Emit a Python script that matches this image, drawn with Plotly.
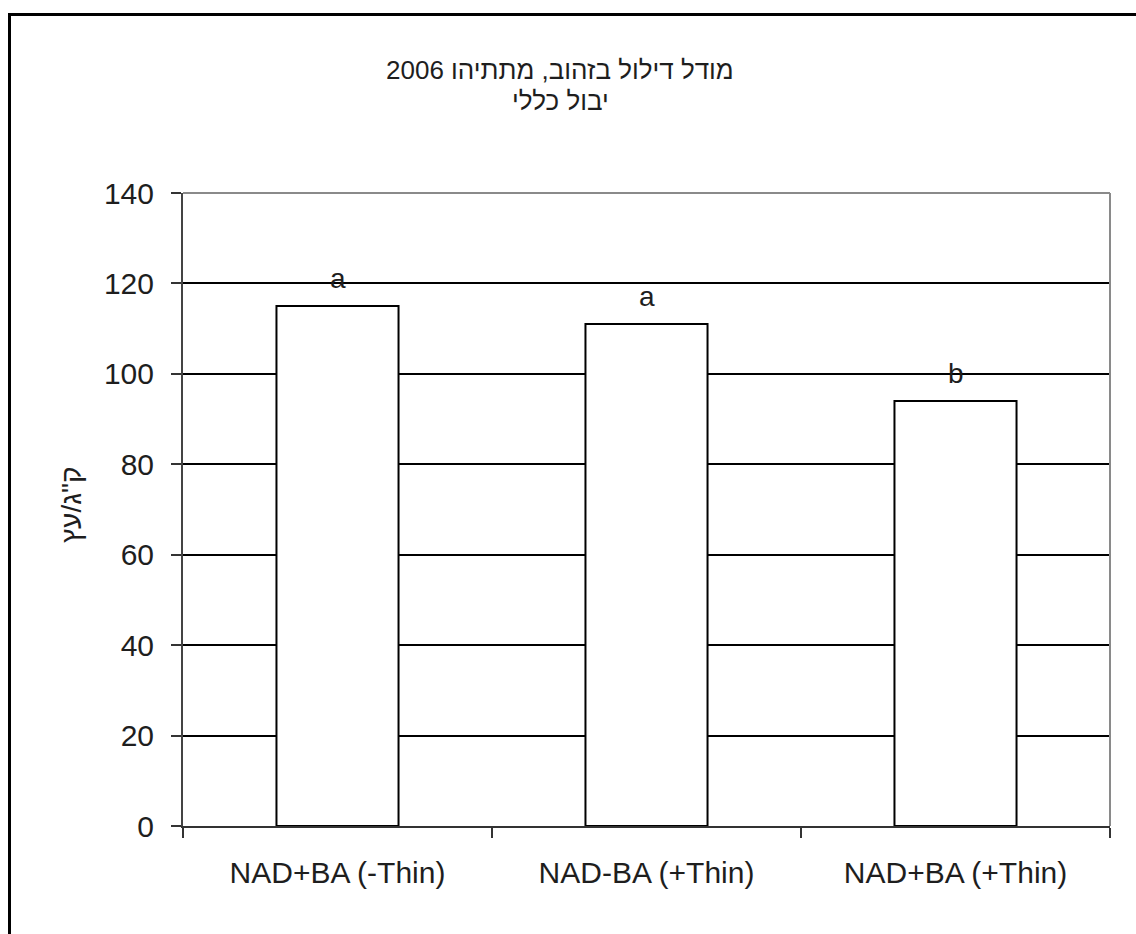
import plotly.graph_objects as go

# Data
categories = ["NAD+BA (-Thin)", "NAD-BA (+Thin)", "NAD+BA (+Thin)"]
yield_kg = [115, 111, 94]
group_letters = ["a", "a", "b"]
y_ticks = [0, 20, 40, 60, 80, 100, 120, 140]

title_line1 = "מודל דילול בזהוב, מתתיהו 2006"
title_line2 = "יבול כללי"
y_title = 'ק"ג/עץ'

FONT = "Liberation Sans, Arial, DejaVu Sans, sans-serif"
TEXT_COLOR = "#1e1e1e"

# Plot-area placement in pixels
W, H = 1136, 934
L, R, T, B = 183, 1110, 193, 826
pw, ph = R - L, B - T


def px_x(x):
    return (x - L) / pw


def px_y(y):
    return (B - y) / ph


fig = go.Figure()

fig.add_trace(go.Bar(
    x=categories,
    y=yield_kg,
    width=0.395,
    marker=dict(color="white", line=dict(color="black", width=2)),
    hoverinfo="x+y",
))

# significance letters above each bar
for cat, val, letter in zip(categories, yield_kg, group_letters):
    fig.add_annotation(
        x=cat, y=val, text=letter, showarrow=False,
        yanchor="bottom", yshift=10,
        font=dict(family=FONT, size=28, color=TEXT_COLOR),
    )

# two-line title
fig.add_annotation(
    xref="paper", yref="paper", x=px_x(560), y=px_y(70),
    text=title_line1, showarrow=False, xanchor="center", yanchor="middle",
    font=dict(family=FONT, size=26, color=TEXT_COLOR),
)
fig.add_annotation(
    xref="paper", yref="paper", x=px_x(560), y=px_y(101),
    text=title_line2, showarrow=False, xanchor="center", yanchor="middle",
    font=dict(family=FONT, size=26, color=TEXT_COLOR),
)

# vertical axis title
fig.add_annotation(
    xref="paper", yref="paper", x=px_x(71), y=px_y(505),
    text=y_title, showarrow=False, textangle=-90,
    xanchor="center", yanchor="middle",
    font=dict(family=FONT, size=28, color=TEXT_COLOR),
)

# gray plot-area border on top and right
fig.add_shape(type="line", xref="paper", yref="paper", x0=0, x1=1, y0=1, y1=1,
              line=dict(color="#8a8a8a", width=2), layer="above")
fig.add_shape(type="line", xref="paper", yref="paper", x0=1, x1=1, y0=0, y1=1,
              line=dict(color="#8a8a8a", width=2), layer="above")

# heavy outer frame of the chart
fig.add_shape(type="rect", xref="paper", yref="paper",
              x0=px_x(9.5), x1=px_x(1145), y0=px_y(14.5), y1=px_y(950),
              line=dict(color="black", width=3), fillcolor="rgba(0,0,0,0)",
              layer="above")

fig.update_layout(
    width=W, height=H,
    margin=dict(l=L, r=W - R, t=T, b=H - B, pad=0),
    paper_bgcolor="white", plot_bgcolor="white",
    showlegend=False,
    bargap=0.6,
    font=dict(family=FONT, color=TEXT_COLOR),
)

fig.update_xaxes(
    type="category",
    tickson="boundaries",
    ticks="outside", ticklen=10, tickwidth=2, tickcolor="#333",
    showline=True, linecolor="#333", linewidth=2,
    showgrid=False,
    tickfont=dict(family=FONT, size=30, color=TEXT_COLOR),
    ticklabelstandoff=19,
)

fig.update_yaxes(
    range=[0, 140],
    tickmode="array", tickvals=y_ticks, ticktext=[str(v) for v in y_ticks],
    ticks="outside", ticklen=10, tickwidth=2, tickcolor="#333",
    showline=True, linecolor="#444", linewidth=2,
    showgrid=True, gridcolor="black", gridwidth=1.5,
    zeroline=False,
    tickfont=dict(family=FONT, size=30, color=TEXT_COLOR),
    ticklabelstandoff=11,
)

fig.write_html("out.html")
